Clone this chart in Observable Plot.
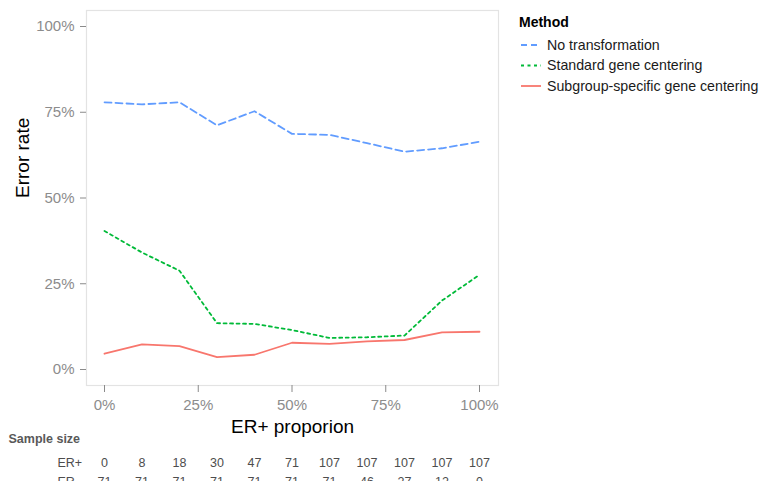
<!DOCTYPE html>
<html>
<head>
<meta charset="utf-8">
<script src="https://cdn.jsdelivr.net/npm/d3@7"></script>
<script src="https://cdn.jsdelivr.net/npm/@observablehq/plot@0.6"></script>
<style>
  html, body { margin: 0; padding: 0; background: #fff; }
</style>
</head>
<body>
<div id="chart"></div>
<script>
// ---- data ----
const proportions = [0, 0.1, 0.2, 0.3, 0.4, 0.5, 0.6, 0.7, 0.8, 0.9, 1.0];
const methods = ["No transformation", "Standard gene centering", "Subgroup-specific gene centering"];
const noTransformation = [0.779, 0.773, 0.779, 0.712, 0.753, 0.687, 0.684, 0.660, 0.635, 0.645, 0.664];
const standardCentering = [0.404, 0.341, 0.288, 0.135, 0.133, 0.115, 0.092, 0.094, 0.099, 0.201, 0.276];
const subgroupCentering = [0.046, 0.073, 0.068, 0.036, 0.043, 0.078, 0.075, 0.082, 0.086, 0.108, 0.110];
const erPositive = [0, 8, 18, 30, 47, 71, 107, 107, 107, 107, 107];
const erNegative = [71, 71, 71, 71, 71, 71, 71, 46, 27, 12, 0];
const yTicks = [0, 0.25, 0.5, 0.75, 1];
const xTicks = [0, 0.25, 0.5, 0.75, 1];

const colors = ["#619CFF", "#00BA38", "#F8766D"];
const dashes = ["7,4", "3,3.5", null];
const seriesValues = [noTransformation, standardCentering, subgroupCentering];

const rows = [];
methods.forEach((m, k) => proportions.forEach((p, i) => rows.push({method: m, prop: p, rate: seriesValues[k][i]})));

const font = "Liberation Sans, Arial, Helvetica, sans-serif";

function legend(index, scales, values, dims) {
  const g = d3.create("svg:g").attr("font-family", font).attr("text-anchor", "start");
  const x0 = dims.width - dims.marginRight + 23;
  g.append("text").attr("x", x0 - 2).attr("y", 22).attr("dy", "0.35em")
    .attr("font-size", 14).attr("font-weight", "bold").attr("fill", "#000").text("Method");
  methods.forEach((m, k) => {
    const y = 45 + k * 20.5;
    const c = scales.color ? scales.color(m) : colors[k];
    g.append("line").attr("x1", x0).attr("x2", x0 + 20).attr("y1", y).attr("y2", y)
      .attr("stroke", c).attr("stroke-width", 1.8)
      .attr("stroke-dasharray", dashes[k] ? (k === 0 ? "6,4" : "3,3.5") : null);
    g.append("text").attr("x", x0 + 26).attr("y", y).attr("dy", "0.35em")
      .attr("font-size", 14.2).attr("fill", "#1a1a1a").text(m);
  });
  return g.node();
}

const chart = Plot.plot({
  width: 764,
  height: 481,
  marginLeft: 86,
  marginRight: 266,
  marginTop: 10,
  marginBottom: 96,
  style: {fontFamily: font, background: "#fff"},
  x: {domain: [0, 1], insetLeft: 18, insetRight: 19},
  y: {domain: [0, 1], insetTop: 16, insetBottom: 16},
  color: {domain: methods, range: colors},
  marks: [
    Plot.frame({stroke: "#e3e3e3", strokeWidth: 1.2}),
    Plot.axisY({ticks: yTicks, tickFormat: d3.format(".0%"), tickSize: 6, tickPadding: 6,
      fontSize: 15, stroke: "#8a8a8a", fill: "#8c8c8c", label: null}),
    Plot.axisX({ticks: xTicks, tickFormat: d3.format(".0%"), tickSize: 7, tickPadding: 7,
      fontSize: 15, stroke: "#8a8a8a", fill: "#8c8c8c", label: null}),
    ...methods.map((m, k) => Plot.line(rows.filter(r => r.method === m), {
      x: "prop", y: "rate", stroke: "method", strokeWidth: 1.8,
      strokeDasharray: dashes[k] || undefined
    })),
    Plot.text(["Error rate"], {text: d => d, frameAnchor: "left", dx: -64, rotate: -90, fontSize: 19, fill: "#000"}),
    Plot.text(["ER+ proporion"], {text: d => d, frameAnchor: "bottom", dy: 47, fontSize: 19, fill: "#000"}),
    Plot.text(["Sample size"], {text: d => d, frameAnchor: "bottom-left", dx: -78, dy: 57, textAnchor: "start",
      fontSize: 12.5, fontWeight: "bold", fill: "#595959"}),
    Plot.text(["ER+"], {text: d => d, frameAnchor: "bottom-left", dx: -29, dy: 81, textAnchor: "start", fontSize: 12.5, fill: "#4d4d4d"}),
    Plot.text(["ER-"], {text: d => d, frameAnchor: "bottom-left", dx: -29, dy: 100, textAnchor: "start", fontSize: 12.5, fill: "#4d4d4d"}),
    Plot.text(proportions, {x: d => d, text: (d, i) => String(erPositive[i]), frameAnchor: "bottom", dy: 81, fontSize: 12.5, fill: "#4d4d4d"}),
    Plot.text(proportions, {x: d => d, text: (d, i) => String(erNegative[i]), frameAnchor: "bottom", dy: 100, fontSize: 12.5, fill: "#4d4d4d"}),
    legend
  ]
});
document.getElementById("chart").appendChild(chart);
</script>
</body>
</html>
